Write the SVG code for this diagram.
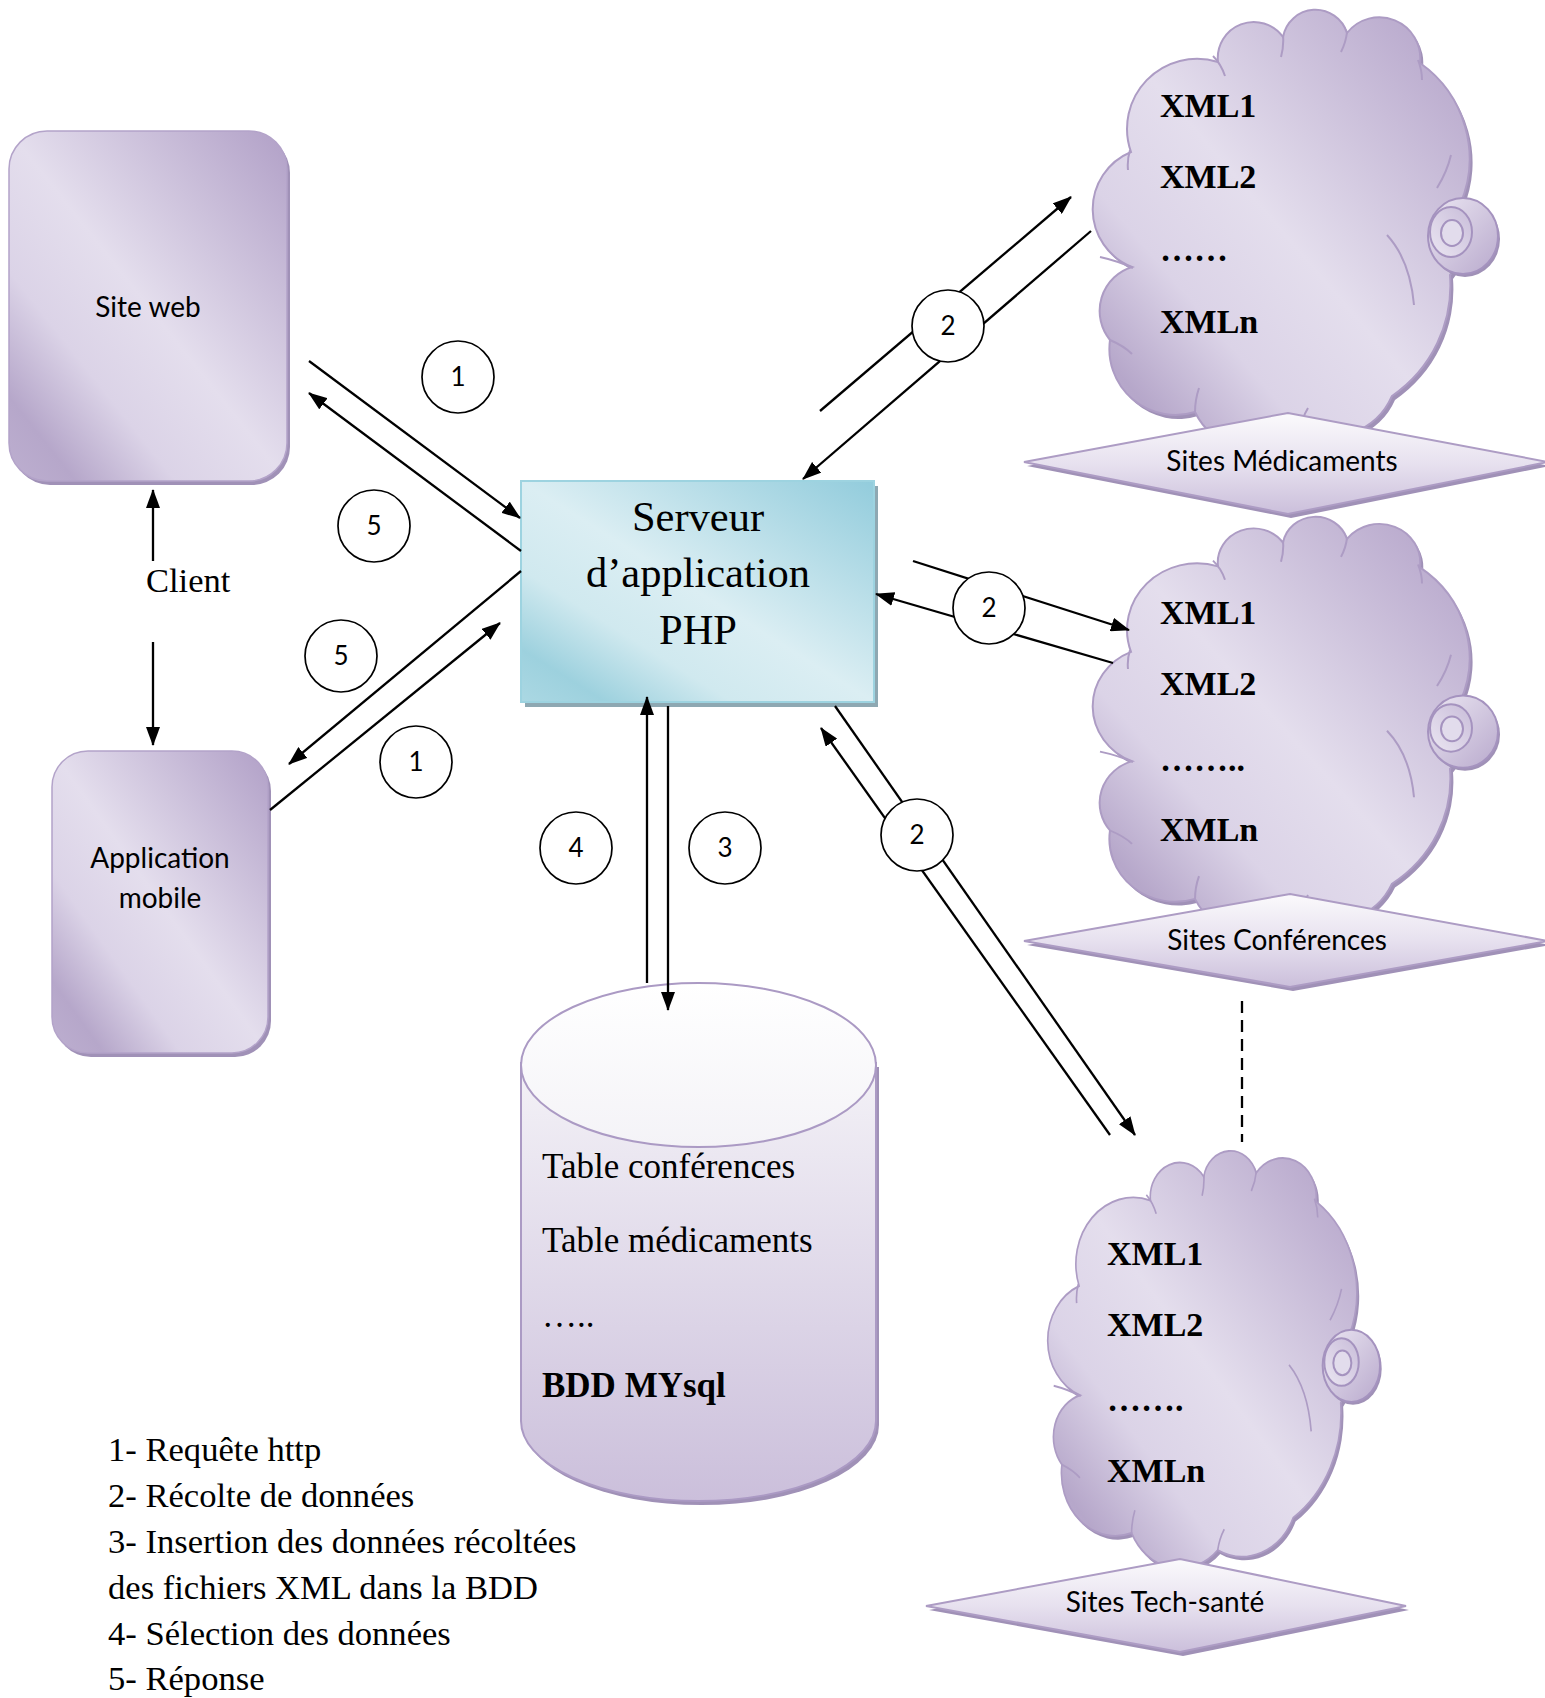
<svg xmlns="http://www.w3.org/2000/svg" xmlns:xlink="http://www.w3.org/1999/xlink" width="1545" height="1698" viewBox="0 0 1545 1698">
<defs>
<style>
.sans{font-family:Lato,"Liberation Sans",sans-serif;font-size:28px;fill:#000;text-anchor:middle}
.serif{font-family:"Liberation Serif","Times New Roman",serif;fill:#000}
.xml{font-family:"Liberation Serif","Times New Roman",serif;font-weight:bold;font-size:34px;fill:#000}
.conn{stroke:#000;stroke-width:2.3;fill:none}
.arrow{marker-end:url(#ah)}
.badge{fill:#fff;stroke:#000;stroke-width:1.7}
.badgeText{font-family:Lato,"Liberation Sans",sans-serif;font-size:26px;text-anchor:middle;fill:#000}
.crease{fill:none;stroke:#ad9cc4;stroke-width:2}
.shadowP{fill:#a091b7}
</style>
<marker id="ah" markerUnits="userSpaceOnUse" markerWidth="19" markerHeight="14" refX="18" refY="7" orient="auto"><path d="M0,0 L19,7 L0,14 Z" fill="#000"/></marker>
<linearGradient id="gPurple" x1="1" y1="0" x2="0" y2="1">
<stop offset="0" stop-color="#b1a0c7"/>
<stop offset="0.5" stop-color="#e4deed"/>
<stop offset="0.7" stop-color="#dbd3e7"/>
<stop offset="0.88" stop-color="#b6a7ca"/>
<stop offset="1" stop-color="#bdafd0"/>
</linearGradient>
<linearGradient id="gTeal" x1="1" y1="0" x2="0" y2="1">
<stop offset="0" stop-color="#92ccdc"/>
<stop offset="0.5" stop-color="#dbeef3"/>
<stop offset="0.7" stop-color="#d0e9ef"/>
<stop offset="0.88" stop-color="#9dd1de"/>
<stop offset="1" stop-color="#abd8e3"/>
</linearGradient>
<linearGradient id="gDiamond" x1="0" y1="0" x2="0" y2="1">
<stop offset="0" stop-color="#fbfafc"/>
<stop offset="0.5" stop-color="#e7e1ef"/>
<stop offset="1" stop-color="#cbbfdb"/>
</linearGradient>
<linearGradient id="gCyl" gradientUnits="userSpaceOnUse" x1="0" y1="983" x2="0" y2="1501">
<stop offset="0" stop-color="#fbfbfc"/>
<stop offset="1" stop-color="#cbbfdb"/>
</linearGradient>
<linearGradient id="gCylTop" x1="0" y1="0" x2="0" y2="1">
<stop offset="0" stop-color="#ffffff"/>
<stop offset="1" stop-color="#f4f3f7"/>
</linearGradient>
<linearGradient id="gEar" x1="0" y1="0" x2="1" y2="1">
<stop offset="0" stop-color="#ebe6f2"/>
<stop offset="1" stop-color="#b9aacd"/>
</linearGradient>
<linearGradient id="gEarIn" x1="1" y1="0" x2="0" y2="1">
<stop offset="0" stop-color="#c8bcd9"/>
<stop offset="1" stop-color="#ebe6f2"/>
</linearGradient>
<path id="cloudPath" d="M1131,152 A70,70 0 0 1 1218,62 A36,36 0 0 1 1283,37 A33,33 0 0 1 1347,33 A41,41 0 0 1 1420,63 A117,117 0 0 1 1460,205 A68,68 0 0 1 1450,275 A134,134 0 0 1 1392,396 A68,68 0 0 1 1300,430 A65,65 0 0 1 1195,412 A66,66 0 0 1 1110,340 A46,46 0 0 1 1132,267 A62,62 0 0 1 1131,152 Z"/>
<path id="cloudCreases" d="M1213,56 Q1221,64 1225,76 M1283,35 Q1284,46 1281,57 M1347,32 Q1346,42 1341,52 M1418,60 Q1422,70 1422,80 M1451,155 Q1447,172 1437,188 M1387,235 Q1410,260 1414,305 M1130,150 Q1127,160 1128,170 M1100,257 Q1118,261 1133,268 M1110,340 Q1124,346 1132,354 M1195,412 Q1195,400 1199,388 M1300,430 Q1302,418 1308,408"/>
<g id="cloudShape">
<use xlink:href="#cloudPath" transform="translate(3,4)" class="shadowP"/>
<use xlink:href="#cloudPath" fill="url(#gPurple)" stroke="#ad9cc4" stroke-width="2" vector-effect="non-scaling-stroke"/>
<use xlink:href="#cloudCreases" class="crease" vector-effect="non-scaling-stroke"/>
<ellipse cx="1465" cy="239" rx="35" ry="38" class="shadowP"/>
<ellipse cx="1463" cy="236" rx="35" ry="38" fill="url(#gEar)" stroke="#a593bf" stroke-width="2" vector-effect="non-scaling-stroke"/>
<ellipse cx="1451" cy="232" rx="21" ry="25" fill="url(#gEarIn)" stroke="#a593bf" stroke-width="2" vector-effect="non-scaling-stroke"/>
<ellipse cx="1452" cy="233" rx="11" ry="13" fill="#e2dcec" stroke="#a593bf" stroke-width="2" vector-effect="non-scaling-stroke"/>
</g>
</defs>

<rect width="1545" height="1698" fill="#ffffff"/>

<g id="site-web">
<rect x="12" y="135" width="278" height="350" rx="38" class="shadowP"/>
<rect x="9" y="131" width="278" height="350" rx="38" fill="url(#gPurple)" stroke="#b3a3c9" stroke-width="1.5"/>
<text x="148" y="317" class="sans">Site web</text>
</g>

<g id="application-mobile">
<rect x="55" y="755" width="216" height="302" rx="36" class="shadowP"/>
<rect x="52" y="751" width="216" height="302" rx="36" fill="url(#gPurple)" stroke="#b3a3c9" stroke-width="1.5"/>
<text x="160" y="868" class="sans">Application</text>
<text x="160" y="908" class="sans">mobile</text>
</g>

<g id="client">
<text x="146" y="592" class="serif" font-size="34.5">Client</text>
</g>

<g id="serveur">
<rect x="525" y="486" width="353" height="221" fill="#8ea8b2"/>
<rect x="521" y="481" width="353" height="221" fill="url(#gTeal)" stroke="#9dd3e0" stroke-width="2"/>
<text x="698" y="531" class="serif" font-size="42.5" text-anchor="middle">Serveur</text>
<text x="698" y="587" class="serif" font-size="42.5" text-anchor="middle">d’application</text>
<text x="698" y="644" class="serif" font-size="42.5" text-anchor="middle">PHP</text>
</g>

<g id="bdd-mysql">
<path d="M524,1067 V1425 A177.5,80 0 0 0 879,1425 V1067 Z" class="shadowP"/>
<path d="M521,1063 V1421 A177.5,80 0 0 0 876,1421 V1063 Z" fill="url(#gCyl)" stroke="#ab9ac4" stroke-width="2"/>
<ellipse cx="698.5" cy="1065" rx="177.5" ry="82" fill="url(#gCylTop)" stroke="#ab9ac4" stroke-width="2"/>
<text x="542" y="1178" class="serif" font-size="35">Table conférences</text>
<text x="542" y="1252" class="serif" font-size="35">Table médicaments</text>
<text x="542" y="1327" class="serif" font-size="35">…..</text>
<text x="542" y="1397" class="serif" font-size="35" font-weight="bold">BDD MYsql</text>
</g>

<g id="cloud-medicaments">
<use xlink:href="#cloudShape"/>
<text x="1160" y="117" class="xml">XML1</text>
<text x="1160" y="188" class="xml">XML2</text>
<text x="1160" y="261" class="xml">……</text>
<text x="1160" y="333" class="xml">XMLn</text>
</g>

<g id="cloud-conferences">
<use xlink:href="#cloudShape" transform="matrix(1 0 0 0.95 0 507.5)"/>
<text x="1160" y="624" class="xml">XML1</text>
<text x="1160" y="695" class="xml">XML2</text>
<text x="1160" y="771" class="xml">……..</text>
<text x="1160" y="841" class="xml">XMLn</text>
</g>

<g id="cloud-techsante">
<use xlink:href="#cloudShape" transform="matrix(0.82 0 0 0.95 151.7 1141.6)"/>
<text x="1107" y="1265" class="xml">XML1</text>
<text x="1107" y="1336" class="xml">XML2</text>
<text x="1107" y="1411" class="xml">…….</text>
<text x="1107" y="1482" class="xml">XMLn</text>
</g>

<g id="sites-medicaments">
<polygon points="1027,466 1291,417 1550,466 1291,518" class="shadowP"/>
<polygon points="1024,462 1288,413 1548,462 1288,514" fill="url(#gDiamond)" stroke="#ad9cc4" stroke-width="2"/>
<text x="1282" y="471" class="sans">Sites Médicaments</text>
</g>

<g id="sites-conferences">
<polygon points="1027,945 1293,898 1550,945 1293,991" class="shadowP"/>
<polygon points="1024,941 1290,894 1548,941 1290,987" fill="url(#gDiamond)" stroke="#ad9cc4" stroke-width="2"/>
<text x="1277" y="950" class="sans">Sites Conférences</text>
</g>

<g id="sites-techsante">
<polygon points="929,1610 1183,1563 1409,1610 1183,1656" class="shadowP"/>
<polygon points="926,1606 1180,1559 1406,1606 1180,1652" fill="url(#gDiamond)" stroke="#ad9cc4" stroke-width="2"/>
<text x="1165" y="1612" class="sans">Sites Tech-santé</text>
</g>

<g id="connectors">
<path d="M309,361 L520,518" class="conn arrow"/>
<path d="M521,551 L309,393" class="conn arrow"/>
<path d="M521,571 L289,764" class="conn arrow"/>
<path d="M270,810 L500,623" class="conn arrow"/>
<path d="M1091,231 L803,479" class="conn arrow"/>
<path d="M820,411 L1071,197" class="conn arrow"/>
<path d="M913,561 L1129,630" class="conn arrow"/>
<path d="M1113,663 L876,594" class="conn arrow"/>
<path d="M835,706 L1135,1135" class="conn arrow"/>
<path d="M1110,1135 L821,728" class="conn arrow"/>
<path d="M668,706 L668,1010" class="conn arrow"/>
<path d="M647,983 L647,697" class="conn arrow"/>
<path d="M153,561 L153,490" class="conn arrow"/>
<path d="M153,642 L153,745" class="conn arrow"/>
<path d="M1242,1001 L1242,1142" class="conn" stroke-dasharray="12 7"/>
<g id="badges">
<circle cx="458" cy="377" r="36" class="badge"/><text x="458" y="386" class="badgeText">1</text>
<circle cx="374" cy="526" r="36" class="badge"/><text x="374" y="535" class="badgeText">5</text>
<circle cx="341" cy="656" r="36" class="badge"/><text x="341" y="665" class="badgeText">5</text>
<circle cx="416" cy="762" r="36" class="badge"/><text x="416" y="771" class="badgeText">1</text>
<circle cx="576" cy="848" r="36" class="badge"/><text x="576" y="857" class="badgeText">4</text>
<circle cx="725" cy="848" r="36" class="badge"/><text x="725" y="857" class="badgeText">3</text>
<circle cx="948" cy="326" r="36" class="badge"/><text x="948" y="335" class="badgeText">2</text>
<circle cx="989" cy="608" r="36" class="badge"/><text x="989" y="617" class="badgeText">2</text>
<circle cx="917" cy="835" r="36" class="badge"/><text x="917" y="844" class="badgeText">2</text>
</g>
</g>

<g id="legend" class="serif" font-size="34.6">
<text x="108" y="1461">1- Requête http</text>
<text x="108" y="1507">2- Récolte de données</text>
<text x="108" y="1553">3- Insertion des données récoltées</text>
<text x="108" y="1599">des fichiers XML dans la BDD</text>
<text x="108" y="1645">4- Sélection des données</text>
<text x="108" y="1690">5- Réponse</text>
</g>
</svg>
